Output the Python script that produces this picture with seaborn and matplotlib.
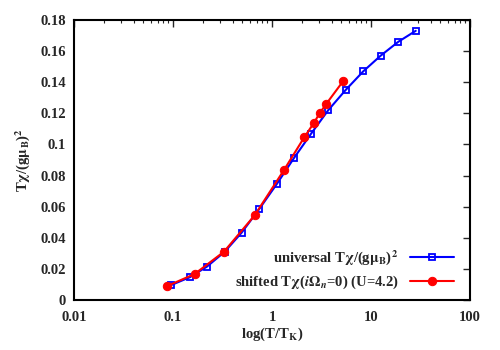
import matplotlib
matplotlib.use("Agg")
import matplotlib.pyplot as plt
import pandas as pd
import seaborn as sns

# universal curve (blue squares)
univ_t = [0.096, 0.148, 0.22, 0.333, 0.494, 0.74, 1.12, 1.67, 2.49, 3.7, 5.55, 8.36, 12.5, 18.9, 28.3]
univ_chi = [0.0096, 0.0146, 0.0214, 0.031, 0.0433, 0.0583, 0.0746, 0.0913, 0.107, 0.122, 0.135, 0.147, 0.157, 0.166, 0.173]

# shifted curve (red circles)
shift_t = [0.0877, 0.1655, 0.327, 0.668, 1.33, 2.12, 2.66, 3.03, 3.51, 5.25]
shift_chi = [0.009, 0.0167, 0.031, 0.0544, 0.0838, 0.1046, 0.114, 0.12, 0.1258, 0.1408]

df_univ = pd.DataFrame({'t': univ_t, 'chi': univ_chi})
df_shift = pd.DataFrame({'t': shift_t, 'chi': shift_chi})

sns.set_style("white")
plt.rcParams['font.family'] = ['Liberation Serif', 'DejaVu Serif']
plt.rcParams['font.weight'] = 'bold'
plt.rcParams['axes.labelweight'] = 'bold'
plt.rcParams['mathtext.fontset'] = 'stix'
plt.rcParams['mathtext.default'] = 'bf'

fig = plt.figure(figsize=(5, 3.5), dpi=100)
ax = fig.add_axes([0.148, 0.143, 0.792, 0.8])

sns.lineplot(x='t', y='chi', data=df_univ, ax=ax, color='#0000ff', marker='s',
             markersize=5, markerfacecolor='none', markeredgecolor='#0000ff',
             markeredgewidth=1.3, linewidth=1.5,
             label=r'universal T$\chi$/(g$\mu_{\rm B}$)$^2$')
sns.lineplot(x='t', y='chi', data=df_shift, ax=ax, color='#ff0000', marker='o',
             markersize=6, markeredgecolor='#ff0000', linewidth=1.5,
             label=r'shifted T$\chi$($\mathit{i}\Omega_\mathit{n}$=0) (U=4.2)')

ax.set_xscale('log')
ax.set_xlim(0.01, 100)
ax.set_ylim(0, 0.18)
ax.set_yticks([0, 0.02, 0.04, 0.06, 0.08, 0.1, 0.12, 0.14, 0.16, 0.18])
ax.set_yticklabels(['0', '0.02', '0.04', '0.06', '0.08', '0.1', '0.12', '0.14', '0.16', '0.18'])
ax.set_xticks([0.01, 0.1, 1, 10, 100])
ax.set_xticklabels(['0.01', '0.1', '1', '10', '100'])

ax.tick_params(which='both', direction='in', top=True, right=True, labelsize=10.5)
ax.tick_params(axis='x', pad=8)
ax.tick_params(axis='y', pad=6)
ax.tick_params(which='major', length=5, width=1)
ax.tick_params(which='minor', length=2.5, width=0.8)
for s in ax.spines.values():
    s.set_linewidth(1.5)
    s.set_color('black')

ax.set_xlabel(r'log(T/T$_{\rm K}$)', fontsize=10.5, labelpad=1)
ax.set_ylabel(r'T$\chi$/(g$\mu_{\rm B}$)$^2$', fontsize=10.5, labelpad=6)

ax.legend(loc='lower right', bbox_to_anchor=(0.985, -0.005), frameon=False,
          markerfirst=False, fontsize=10.5, handlelength=3, borderaxespad=0.3,
          labelspacing=0.45)

fig.savefig('out.png', dpi=100)
